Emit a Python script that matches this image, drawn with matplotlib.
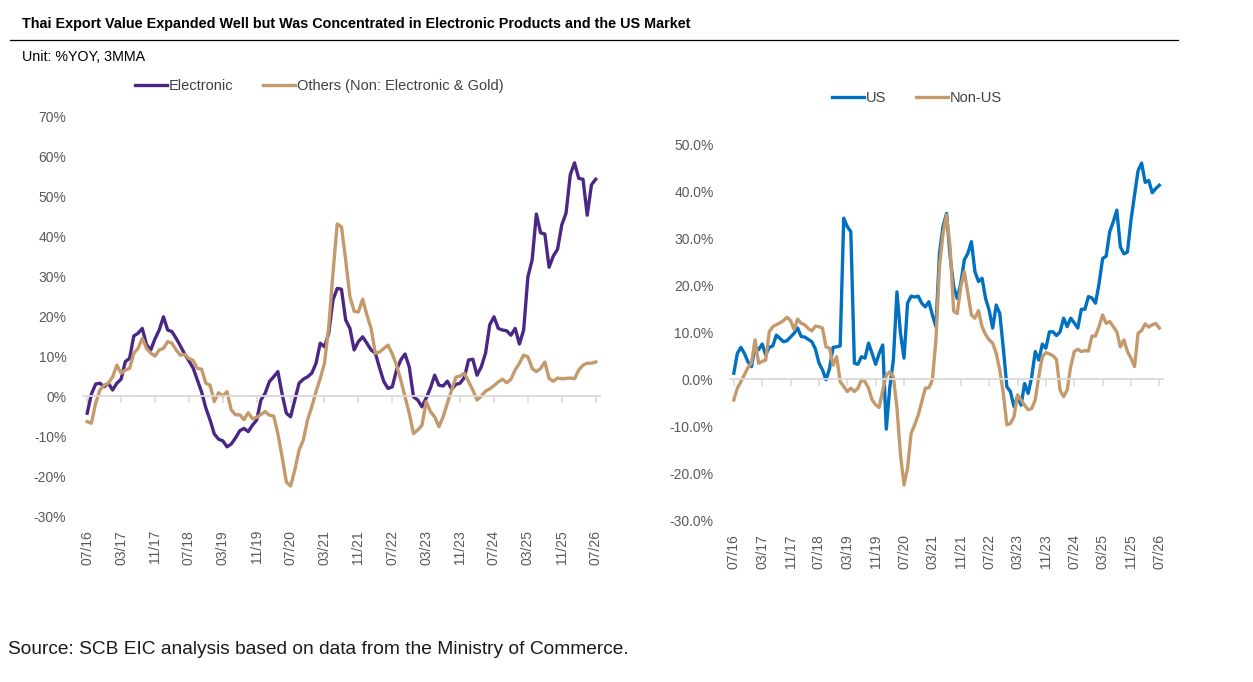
import matplotlib
matplotlib.use("Agg")
import matplotlib.pyplot as plt
import pandas as pd

plt.rcParams['font.family'] = ['Liberation Sans', 'DejaVu Sans']

# monthly, 07/16 .. 07/26, %YOY 3MMA
months = pd.date_range('2016-07-01', periods=121, freq='MS').strftime('%m/%y').tolist()

electronic = [
    -4.3, 0.5, 3.0, 3.2, 2.3, 3.2, 1.5, 3.2, 4.2, 8.6,
    9.4, 15.0, 15.7, 16.9, 12.8, 11.5, 14.3, 16.5, 19.8, 16.5,
    16.1, 14.4, 12.5, 10.5, 8.8, 7.0, 4.0, 1.0, -3.0, -6.0,
    -9.5, -10.8, -11.2, -12.7, -12.0, -10.5, -8.7, -8.1, -8.9, -7.3,
    -6.0, -1.0, 0.7, 3.6, 4.8, 6.1, 0.5, -4.3, -5.2, -1.0,
    3.2, 4.2, 4.8, 5.7, 8.2, 13.2, 12.3, 15.7, 24.0, 26.9,
    26.7, 19.0, 16.9, 11.5, 13.6, 14.8, 13.2, 11.5, 10.7, 7.0,
    3.6, 1.9, 2.3, 6.5, 9.0, 10.5, 7.3, -0.2, -1.0, -2.7,
    -0.5, 2.0, 5.2, 2.7, 2.5, 3.7, 1.7, 2.9, 3.2, 4.6,
    9.0, 9.2, 5.2, 7.3, 10.7, 17.8, 19.8, 16.9, 16.5, 16.3,
    15.2, 16.9, 13.0, 16.5, 29.8, 34.0, 45.5, 40.8, 40.5, 32.2,
    35.0, 36.7, 42.8, 45.7, 55.3, 58.3, 54.4, 54.2, 45.2, 52.8,
    54.2,
]

others = [
    -6.4, -6.8, -1.8, 1.5, 2.7, 3.2, 4.8, 7.7, 5.7, 6.5,
    6.9, 10.7, 11.9, 14.4, 11.9, 10.7, 10.0, 11.5, 11.9, 13.6,
    13.2, 11.5, 10.2, 10.4, 9.4, 8.9, 6.9, 6.7, 3.2, 2.7,
    -1.4, 0.8, 0.0, 1.1, -3.5, -4.7, -4.7, -5.9, -4.2, -5.7,
    -5.3, -4.6, -3.9, -4.8, -5.0, -9.4, -15.2, -21.5, -22.5, -18.5,
    -13.5, -11.0, -6.0, -2.7, 1.1, 4.4, 8.2, 17.3, 30.7, 43.0,
    42.3, 34.0, 24.8, 21.2, 21.0, 24.2, 20.3, 16.9, 10.7, 11.0,
    11.9, 12.7, 10.5, 7.7, 4.0, -0.2, -4.3, -9.4, -8.5, -7.3,
    -1.4, -3.9, -5.2, -7.7, -5.2, -1.8, 1.5, 4.7, 5.0, 5.7,
    3.6, 1.5, -1.0, 0.0, 1.2, 1.8, 2.6, 3.5, 4.2, 3.3,
    4.2, 6.5, 8.2, 10.2, 9.8, 6.9, 6.1, 6.9, 8.5, 4.4,
    3.7, 4.5, 4.3, 4.4, 4.5, 4.3, 6.5, 7.7, 8.2, 8.2,
    8.5,
]

us = [
    1.3, 5.5, 6.8, 5.5, 3.7, 2.7, 6.9, 6.3, 7.5, 5.2,
    6.8, 7.1, 9.4, 8.7, 8.0, 8.2, 9.0, 9.8, 10.9, 9.1,
    9.0, 8.5, 8.0, 6.5, 3.5, 2.0, -0.1, 2.3, 6.8, 6.9,
    7.1, 34.3, 32.5, 31.4, 3.4, 3.2, 4.8, 4.5, 7.7, 5.5,
    3.2, 5.5, 7.3, -10.6, -1.6, 4.1, 18.6, 9.8, 4.5, 16.2,
    17.7, 17.5, 17.7, 16.2, 15.4, 16.5, 13.7, 11.2, 26.8, 32.5,
    35.3, 26.1, 19.7, 17.2, 20.4, 25.4, 26.8, 29.3, 22.9, 20.8,
    21.5, 17.2, 14.7, 10.9, 15.8, 14.0, 6.6, -1.6, -2.6, -5.8,
    -3.7, -5.5, -0.9, -3.0, 0.5, 5.9, 4.1, 7.5, 6.6, 10.1,
    10.1, 9.3, 10.1, 13.0, 11.2, 13.0, 12.0, 10.9, 14.9, 14.9,
    17.6, 17.3, 16.2, 20.4, 25.7, 26.2, 31.4, 33.5, 36.0, 28.2,
    26.7, 27.1, 33.9, 39.2, 44.4, 46.0, 41.9, 42.3, 39.7, 40.6,
    41.3,
]

non_us = [
    -4.4, -1.9, -0.5, 1.0, 2.5, 3.5, 8.4, 3.4, 3.8, 4.1,
    10.1, 11.2, 11.6, 12.0, 12.5, 13.2, 12.5, 10.6, 12.8, 11.9,
    11.6, 10.8, 10.3, 11.3, 11.2, 10.9, 6.9, 6.6, 3.0, 4.8,
    -0.5, -1.5, -2.6, -1.9, -2.6, -1.9, -0.1, -0.5, -1.9, -4.4,
    -5.4, -6.0, -2.3, 0.9, 1.6, 0.5, -6.0, -16.0, -22.5, -18.9,
    -11.5, -9.7, -7.6, -4.8, -1.9, -1.8, -0.1, 8.4, 24.0, 31.0,
    35.0, 28.0, 14.5, 14.0, 19.7, 22.9, 18.3, 13.7, 13.0, 14.6,
    11.2, 9.5, 8.4, 7.7, 5.5, 2.0, -3.0, -9.7, -9.4, -8.0,
    -3.3, -4.4, -5.5, -6.5, -6.2, -4.4, 0.6, 4.8, 5.7, 5.4,
    5.0, 4.2, -2.3, -3.7, -2.3, 2.7, 5.9, 6.4, 5.9, 6.1,
    6.0, 9.2, 9.2, 11.3, 13.7, 11.9, 12.3, 11.2, 10.1, 6.9,
    8.4, 5.9, 4.5, 2.7, 9.8, 10.4, 11.8, 11.1, 11.6, 11.9,
    10.9,
]

PURPLE = '#4b2785'
TAN = '#c49a6c'
BLUE = '#0070c0'
GREY = '#595959'
AXIS = '#d9d9d9'

x = list(range(len(months)))
tick_pos = x[::8]
tick_lab = months[::8]


def style_panel(ax, ylo, yhi, ystep, fmt):
    ax.set_xlim(-1, len(months))
    ax.set_ylim(ylo, yhi)
    ticks = [ylo + k * ystep for k in range(int(round((yhi - ylo) / ystep)) + 1)]
    ax.set_yticks(ticks)
    ax.set_yticklabels([fmt.format(t) for t in ticks])
    ax.tick_params(axis='y', length=0, pad=12, labelsize=10, labelcolor=GREY)
    for s in ['top', 'right', 'left']:
        ax.spines[s].set_visible(False)
    # category axis sits on the zero line
    ax.spines['bottom'].set_position(('data', 0))
    ax.spines['bottom'].set_color(AXIS)
    ax.spines['bottom'].set_linewidth(1.3)
    ax.set_xticks(tick_pos)
    ax.tick_params(axis='x', length=5, width=1.1, color=AXIS, labelbottom=False)
    sec = ax.secondary_xaxis('bottom')
    sec.set_xticks(tick_pos, labels=tick_lab, rotation=90)
    sec.tick_params(length=0, pad=10, labelsize=10, labelcolor=GREY)
    sec.spines['bottom'].set_visible(False)


fig = plt.figure(figsize=(12.53, 6.82), dpi=100)

ax1 = fig.add_axes([0.0662, 0.2434, 0.4126, 0.5865])
ax1.plot(x, electronic, color=PURPLE, lw=2.4, label='Electronic')
ax1.plot(x, others, color=TAN, lw=2.4, label='Others (Non: Electronic & Gold)')
style_panel(ax1, -30, 70, 10, '{:.0f}%')
ax1.legend(loc='center', bbox_to_anchor=(0.2546, 0.8739), bbox_transform=fig.transFigure,
           ncol=2, frameon=False, fontsize=10.5, handlelength=2.2, handletextpad=0.15,
           columnspacing=2.0, labelcolor='#404040')

ax2 = fig.add_axes([0.5828, 0.2371, 0.3453, 0.5513])
ax2.plot(x, us, color=BLUE, lw=2.4, label='US')
ax2.plot(x, non_us, color=TAN, lw=2.4, label='Non-US')
style_panel(ax2, -30, 50, 10, '{:.1f}%')
ax2.legend(loc='center', bbox_to_anchor=(0.732, 0.8563), bbox_transform=fig.transFigure,
           ncol=2, frameon=False, fontsize=10.5, handlelength=2.2, handletextpad=0.15,
           columnspacing=2.0, labelcolor='#404040')

fig.text(22 / 1253, 1 - 24 / 682,
         'Thai Export Value Expanded Well but Was Concentrated in Electronic Products and the US Market',
         fontsize=10.4, fontweight='bold', va='center', ha='left', color='black')
fig.add_artist(plt.Line2D([10 / 1253, 1178 / 1253], [1 - 40 / 682, 1 - 40 / 682],
                          color='black', lw=0.9, transform=fig.transFigure))
fig.text(22 / 1253, 1 - 57 / 682, 'Unit: %YOY, 3MMA', fontsize=10.3, va='center', ha='left')
fig.text(8 / 1253, 1 - 650 / 682,
         'Source: SCB EIC analysis based on data from the Ministry of Commerce.',
         fontsize=13.8, va='center', ha='left', color='#1a1a1a')

fig.savefig('out.png', dpi=100)
